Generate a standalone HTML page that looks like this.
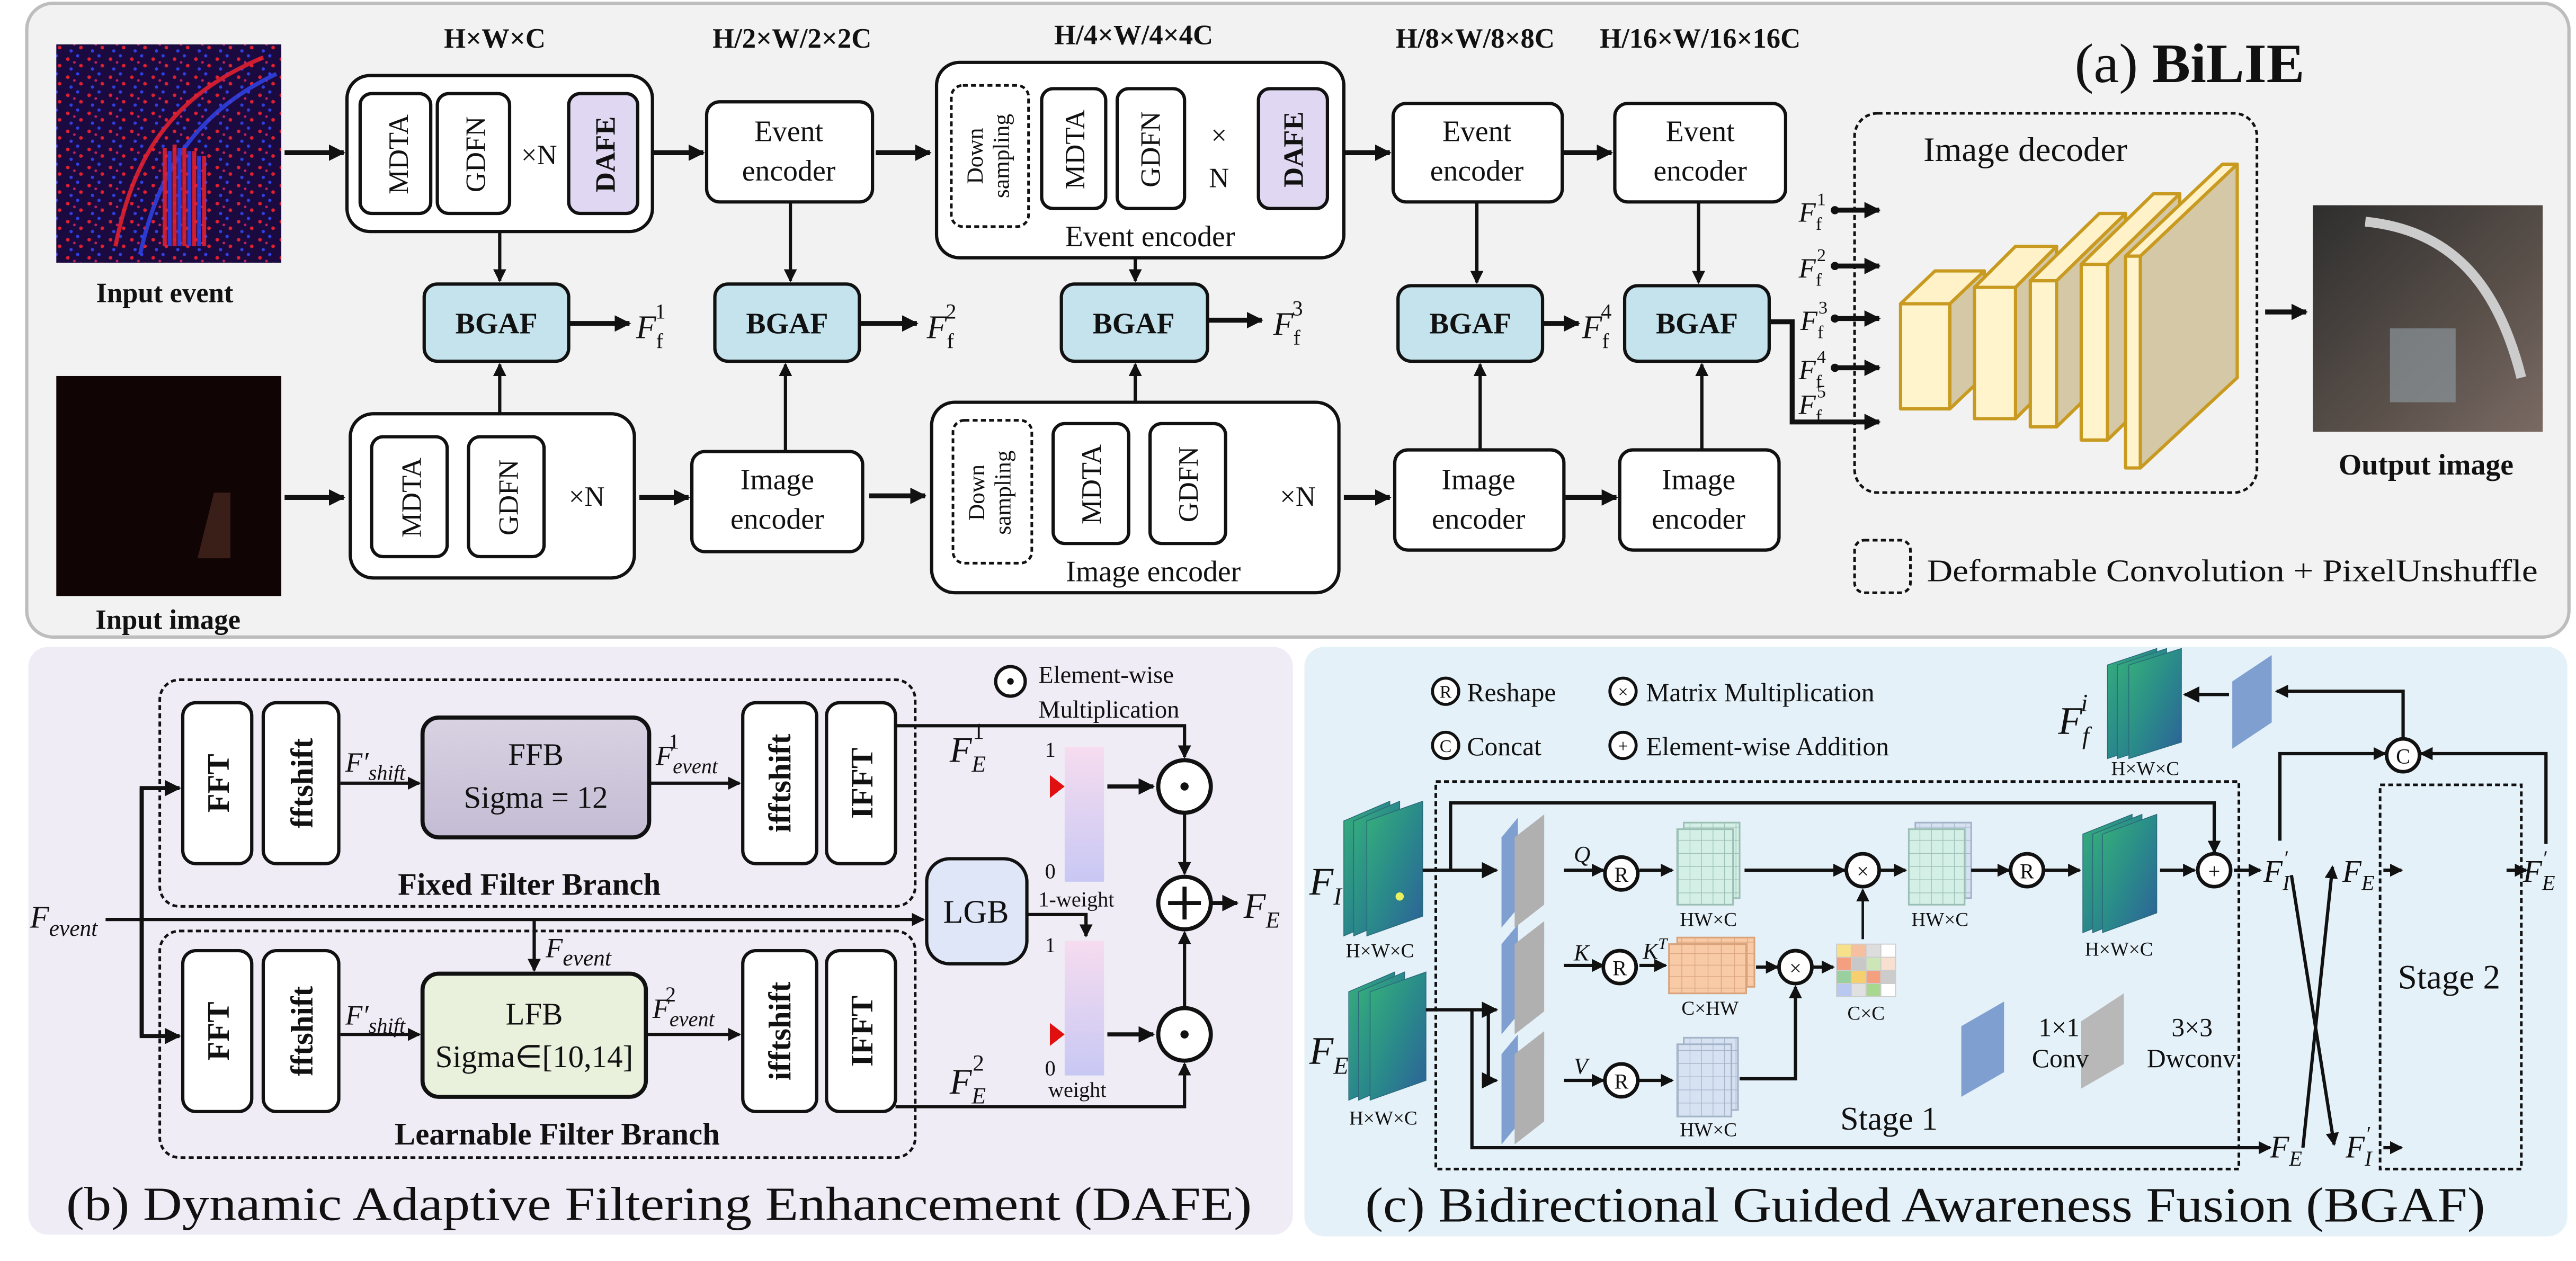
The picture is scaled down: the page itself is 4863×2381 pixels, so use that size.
<!DOCTYPE html>
<html><head><meta charset="utf-8"><style>
html,body{margin:0;padding:0;background:#fff}
svg{display:block}
text{font-family:"Liberation Serif",serif;fill:#111}
.b{font-weight:bold}
.i{font-style:italic}
.bx{fill:#fff;stroke:#111;stroke-width:2}
.ln{fill:none;stroke:#111;stroke-width:2}
.lt{fill:none;stroke:#111;stroke-width:3}
.ds{fill:none;stroke:#111;stroke-width:1.6;stroke-dasharray:3 2}
</style></head><body>
<svg width="4863" height="2381" viewBox="0 0 1568 768" xmlns="http://www.w3.org/2000/svg">
<defs>
<marker id="a" markerUnits="userSpaceOnUse" markerWidth="10" markerHeight="10" refX="9" refY="5" orient="auto"><path d="M0,0 L10,5 L0,10 z" fill="#111"/></marker>
<marker id="s" markerUnits="userSpaceOnUse" markerWidth="8" markerHeight="8" refX="7" refY="4" orient="auto"><path d="M0,0 L8,4 L0,8 z" fill="#111"/></marker>
<pattern id="noise" width="13" height="11" patternUnits="userSpaceOnUse"><rect width="13" height="11" fill="#1a0a40"/><circle cx="2" cy="3" r="1.1" fill="#e02030"/><circle cx="8" cy="1" r="1" fill="#3040e0"/><circle cx="10" cy="7" r="1.1" fill="#e02030"/><circle cx="4" cy="9" r="1" fill="#3040e0"/><circle cx="6" cy="5" r=".8" fill="#c02060"/></pattern>
<linearGradient id="out" x1="0" y1="0" x2="1" y2="1"><stop offset="0" stop-color="#2e2e2e"/><stop offset=".6" stop-color="#5a504a"/><stop offset="1" stop-color="#7a6a64"/></linearGradient>
<linearGradient id="fm" x1="0" y1="0" x2="1" y2="1"><stop offset="0" stop-color="#36b07a"/><stop offset=".5" stop-color="#2a8a8a"/><stop offset="1" stop-color="#2d5f9a"/></linearGradient>
<linearGradient id="bar" x1="0" y1="0" x2="0" y2="1"><stop offset="0" stop-color="#f6dcef"/><stop offset="1" stop-color="#c8c8f4"/></linearGradient>
<linearGradient id="ffb" x1="0" y1="0" x2="0" y2="1"><stop offset="0" stop-color="#d8d2e2"/><stop offset="1" stop-color="#c4bcd4"/></linearGradient>
<pattern id="gg" width="7" height="8" patternUnits="userSpaceOnUse"><rect width="7" height="8" fill="#d3efe6"/><path d="M7,0V8M0,8H7" stroke="#9bbfb4" stroke-width=".8"/></pattern>
<pattern id="gb" width="7" height="8" patternUnits="userSpaceOnUse"><rect width="7" height="8" fill="#d6e2f2"/><path d="M7,0V8M0,8H7" stroke="#a3b3c8" stroke-width=".8"/></pattern>
<pattern id="go" width="8" height="7" patternUnits="userSpaceOnUse"><rect width="8" height="7" fill="#f8caa6"/><path d="M8,0V7M0,7H8" stroke="#d8a27a" stroke-width=".8"/></pattern>
</defs>

<rect x="16" y="2" width="1548" height="386" rx="16" fill="#f2f2f2" stroke="#bdbdbd" stroke-width="2"/>
<rect x="17" y="394" width="770" height="358" rx="12" fill="#efecf6"/>
<rect x="794" y="394" width="769" height="359" rx="12" fill="#e5f1f8"/>

<!-- ===== (a) ===== -->
<text x="301" y="29" class="b" font-size="17" text-anchor="middle">H×W×C</text>
<text x="482" y="29" class="b" font-size="17" text-anchor="middle">H/2×W/2×2C</text>
<text x="690" y="27" class="b" font-size="17" text-anchor="middle">H/4×W/4×4C</text>
<text x="898" y="29" class="b" font-size="17" text-anchor="middle">H/8×W/8×8C</text>
<text x="1035" y="29" class="b" font-size="17" text-anchor="middle">H/16×W/16×16C</text>
<text x="1333" y="50" font-size="34" text-anchor="middle" textLength="140" lengthAdjust="spacingAndGlyphs">(a) <tspan class="b">BiLIE</tspan></text>

<rect x="34" y="27" width="137" height="133" fill="url(#noise)"/>
<g stroke-width="2.5" fill="none" opacity=".9">
<path d="M70,150 C80,100 100,60 160,35" stroke="#e02030"/><path d="M85,155 C95,110 115,70 168,45" stroke="#3040e0"/>
<path d="M100,150 V90 M106,150 V88 M112,150 V90 M118,150 V92 M124,150 V95" stroke="#e02030"/>
<path d="M103,150 V92 M109,150 V90 M115,150 V92 M121,150 V95" stroke="#3040e0"/>
</g>
<text x="100" y="184" class="b" font-size="17" text-anchor="middle">Input event</text>
<rect x="34" y="229" width="137" height="134" fill="#100404"/>
<path d="M120,340 l10,-40 l10,0 l0,40z" fill="#3a1e18"/>
<text x="102" y="383" class="b" font-size="17" text-anchor="middle">Input image</text>

<line x1="173" y1="93" x2="209" y2="93" class="lt" marker-end="url(#a)"/>
<rect x="211" y="46" width="186" height="95" rx="14" class="bx"/>
<rect x="219" y="57" width="43" height="73" rx="7" class="bx"/>
<rect x="266" y="57" width="44" height="73" rx="7" class="bx"/>
<rect x="346" y="57" width="42" height="73" rx="7" fill="#e0d8f2" stroke="#111" stroke-width="2"/>
<text transform="translate(248,94) rotate(-90)" font-size="17" text-anchor="middle">MDTA</text>
<text transform="translate(295,94) rotate(-90)" font-size="17" text-anchor="middle">GDFN</text>
<text transform="translate(374,94) rotate(-90)" class="b" font-size="17" text-anchor="middle">DAFE</text>
<text x="328" y="100" font-size="17" text-anchor="middle">×N</text>
<line x1="397" y1="93" x2="428" y2="93" class="lt" marker-end="url(#a)"/>

<rect x="430" y="62" width="101" height="61" rx="8" class="bx"/>
<text x="480" y="86" font-size="18" text-anchor="middle">Event</text><text x="480" y="110" font-size="18" text-anchor="middle">encoder</text>
<line x1="533" y1="93" x2="566" y2="93" class="lt" marker-end="url(#a)"/>

<rect x="570" y="38" width="248" height="119" rx="14" class="bx"/>
<rect x="579" y="52" width="47" height="86" rx="7" class="ds"/>
<text transform="translate(598,95) rotate(-90)" font-size="14" text-anchor="middle">Down</text>
<text transform="translate(614,95) rotate(-90)" font-size="14" text-anchor="middle">sampling</text>
<rect x="634" y="54" width="39" height="73" rx="7" class="bx"/>
<rect x="680" y="54" width="41" height="73" rx="7" class="bx"/>
<rect x="766" y="54" width="42" height="73" rx="7" fill="#e0d8f2" stroke="#111" stroke-width="2"/>
<text transform="translate(660,91) rotate(-90)" font-size="17" text-anchor="middle">MDTA</text>
<text transform="translate(706,91) rotate(-90)" font-size="17" text-anchor="middle">GDFN</text>
<text transform="translate(793,91) rotate(-90)" class="b" font-size="17" text-anchor="middle">DAFE</text>
<text x="742" y="88" font-size="17" text-anchor="middle">×</text><text x="742" y="114" font-size="17" text-anchor="middle">N</text>
<text x="700" y="150" font-size="18" text-anchor="middle">Event encoder</text>
<line x1="818" y1="93" x2="846" y2="93" class="lt" marker-end="url(#a)"/>

<rect x="848" y="63" width="103" height="60" rx="8" class="bx"/>
<text x="899" y="86" font-size="18" text-anchor="middle">Event</text><text x="899" y="110" font-size="18" text-anchor="middle">encoder</text>
<line x1="951" y1="93" x2="981" y2="93" class="lt" marker-end="url(#a)"/>
<rect x="983" y="63" width="104" height="60" rx="8" class="bx"/>
<text x="1035" y="86" font-size="18" text-anchor="middle">Event</text><text x="1035" y="110" font-size="18" text-anchor="middle">encoder</text>

<g fill="#c5e3ed" stroke="#111" stroke-width="2">
<rect x="258" y="173" width="88" height="47" rx="8"/><rect x="435" y="173" width="88" height="47" rx="8"/>
<rect x="646" y="173" width="89" height="47" rx="8"/><rect x="851" y="174" width="88" height="46" rx="8"/>
<rect x="989" y="174" width="88" height="46" rx="8"/></g>
<g class="b" font-size="18" text-anchor="middle">
<text x="302" y="203">BGAF</text><text x="479" y="203">BGAF</text><text x="690" y="203">BGAF</text><text x="895" y="203">BGAF</text><text x="1033" y="203">BGAF</text></g>
<g class="ln">
<line x1="304" y1="141" x2="304" y2="171" marker-end="url(#s)"/><line x1="481" y1="123" x2="481" y2="171" marker-end="url(#s)"/>
<line x1="691" y1="157" x2="691" y2="171" marker-end="url(#s)"/><line x1="899" y1="123" x2="899" y2="172" marker-end="url(#s)"/>
<line x1="1034" y1="123" x2="1034" y2="172" marker-end="url(#s)"/>
<line x1="304" y1="252" x2="304" y2="222" marker-end="url(#s)"/><line x1="478" y1="275" x2="478" y2="222" marker-end="url(#s)"/>
<line x1="691" y1="245" x2="691" y2="222" marker-end="url(#s)"/><line x1="901" y1="274" x2="901" y2="222" marker-end="url(#s)"/>
<line x1="1036" y1="274" x2="1036" y2="222" marker-end="url(#s)"/>
</g>
<g class="lt">
<line x1="346" y1="197" x2="383" y2="197" marker-end="url(#a)"/><line x1="523" y1="197" x2="558" y2="197" marker-end="url(#a)"/>
<line x1="735" y1="195" x2="768" y2="195" marker-end="url(#a)"/><line x1="939" y1="197" x2="961" y2="197" marker-end="url(#a)"/>
</g>
<g font-size="20" class="i">
<text x="387" y="206">F<tspan font-size="13" font-style="normal" dy="6">f</tspan><tspan font-size="13" font-style="normal" dx="-5" dy="-18">1</tspan></text>
<text x="564" y="206">F<tspan font-size="13" font-style="normal" dy="6">f</tspan><tspan font-size="13" font-style="normal" dx="-5" dy="-18">2</tspan></text>
<text x="775" y="204">F<tspan font-size="13" font-style="normal" dy="6">f</tspan><tspan font-size="13" font-style="normal" dx="-5" dy="-18">3</tspan></text>
<text x="963" y="206">F<tspan font-size="13" font-style="normal" dy="6">f</tspan><tspan font-size="13" font-style="normal" dx="-5" dy="-18">4</tspan></text>
</g>

<line x1="173" y1="303" x2="209" y2="303" class="lt" marker-end="url(#a)"/>
<rect x="213" y="252" width="173" height="100" rx="14" class="bx"/>
<rect x="226" y="266" width="46" height="73" rx="7" class="bx"/>
<rect x="285" y="266" width="46" height="73" rx="7" class="bx"/>
<text transform="translate(256,303) rotate(-90)" font-size="17" text-anchor="middle">MDTA</text>
<text transform="translate(315,303) rotate(-90)" font-size="17" text-anchor="middle">GDFN</text>
<text x="357" y="308" font-size="17" text-anchor="middle">×N</text>
<line x1="389" y1="303" x2="419" y2="303" class="lt" marker-end="url(#a)"/>
<rect x="421" y="275" width="104" height="61" rx="8" class="bx"/>
<text x="473" y="298" font-size="18" text-anchor="middle">Image</text><text x="473" y="322" font-size="18" text-anchor="middle">encoder</text>
<line x1="529" y1="302" x2="563" y2="302" class="lt" marker-end="url(#a)"/>
<rect x="567" y="245" width="248" height="116" rx="14" class="bx"/>
<rect x="580" y="256" width="48" height="87" rx="7" class="ds"/>
<text transform="translate(599,300) rotate(-90)" font-size="14" text-anchor="middle">Down</text>
<text transform="translate(615,300) rotate(-90)" font-size="14" text-anchor="middle">sampling</text>
<rect x="641" y="258" width="46" height="73" rx="7" class="bx"/>
<rect x="700" y="258" width="46" height="73" rx="7" class="bx"/>
<text transform="translate(670,295) rotate(-90)" font-size="17" text-anchor="middle">MDTA</text>
<text transform="translate(729,295) rotate(-90)" font-size="17" text-anchor="middle">GDFN</text>
<text x="790" y="308" font-size="17" text-anchor="middle">×N</text>
<text x="702" y="354" font-size="18" text-anchor="middle">Image encoder</text>
<line x1="818" y1="303" x2="846" y2="303" class="lt" marker-end="url(#a)"/>
<rect x="849" y="274" width="103" height="61" rx="8" class="bx"/>
<text x="900" y="298" font-size="18" text-anchor="middle">Image</text><text x="900" y="322" font-size="18" text-anchor="middle">encoder</text>
<line x1="953" y1="303" x2="984" y2="303" class="lt" marker-end="url(#a)"/>
<rect x="986" y="274" width="97" height="61" rx="8" class="bx"/>
<text x="1034" y="298" font-size="18" text-anchor="middle">Image</text><text x="1034" y="322" font-size="18" text-anchor="middle">encoder</text>

<path d="M1077,196 H1091 V257 H1144" class="lt" marker-end="url(#a)"/>
<g class="lt">
<line x1="1116" y1="128" x2="1144" y2="128" marker-end="url(#a)"/><line x1="1116" y1="162" x2="1144" y2="162" marker-end="url(#a)"/>
<line x1="1116" y1="194" x2="1144" y2="194" marker-end="url(#a)"/><line x1="1116" y1="224" x2="1144" y2="224" marker-end="url(#a)"/>
</g>
<g fill="#111"><circle cx="1117" cy="128" r="2.5"/><circle cx="1117" cy="162" r="2.5"/><circle cx="1117" cy="194" r="2.5"/><circle cx="1117" cy="224" r="2.5"/></g>
<g font-size="17" class="i">
<text x="1095" y="135">F<tspan font-size="11" font-style="normal" dy="5">f</tspan><tspan font-size="11" font-style="normal" dx="-3" dy="-15">1</tspan></text>
<text x="1095" y="169">F<tspan font-size="11" font-style="normal" dy="5">f</tspan><tspan font-size="11" font-style="normal" dx="-3" dy="-15">2</tspan></text>
<text x="1096" y="201">F<tspan font-size="11" font-style="normal" dy="5">f</tspan><tspan font-size="11" font-style="normal" dx="-3" dy="-15">3</tspan></text>
<text x="1095" y="231">F<tspan font-size="11" font-style="normal" dy="5">f</tspan><tspan font-size="11" font-style="normal" dx="-3" dy="-15">4</tspan></text>
<text x="1095" y="252">F<tspan font-size="11" font-style="normal" dy="5">f</tspan><tspan font-size="11" font-style="normal" dx="-3" dy="-15">5</tspan></text>
</g>
<rect x="1129" y="69" width="245" height="231" rx="14" class="ds"/>
<text x="1233" y="98" font-size="21" text-anchor="middle">Image decoder</text>
<g stroke="#c89a20" stroke-width="2" stroke-linejoin="round">
<path d="M1187,185 l21,-20 v64 l-21,20z" fill="#d5c8a6"/><path d="M1157,185 l21,-20 h30 l-21,20z" fill="#fff2c8"/><rect x="1157" y="185" width="30" height="64" fill="#fff4cc"/>
<path d="M1227,175 l25,-25 v80 l-25,25z" fill="#d5c8a6"/><path d="M1202,175 l25,-25 h25 l-25,25z" fill="#fff2c8"/><rect x="1202" y="175" width="25" height="80" fill="#fff4cc"/>
<path d="M1252,171 l42,-41 v89 l-42,41z" fill="#d5c8a6"/><path d="M1236,171 l42,-41 h16 l-42,41z" fill="#fff2c8"/><rect x="1236" y="171" width="16" height="89" fill="#fff4cc"/>
<path d="M1283,161 l44,-43 v107 l-44,43z" fill="#d5c8a6"/><path d="M1267,161 l44,-43 h16 l-44,43z" fill="#fff2c8"/><rect x="1267" y="161" width="16" height="107" fill="#fff4cc"/>
<path d="M1303,156 l59,-56 v130 l-59,55z" fill="#d5c8a6"/><path d="M1294,156 l59,-56 h9 l-59,56z" fill="#fff2c8"/><rect x="1294" y="156" width="9" height="129" fill="#fff4cc"/>
</g>
<line x1="1379" y1="190" x2="1404" y2="190" class="lt" marker-end="url(#a)"/>
<rect x="1408" y="125" width="140" height="138" fill="url(#out)"/>
<path d="M1440,135 C1490,140 1520,170 1535,230" stroke="#ccc" stroke-width="6" fill="none"/>
<rect x="1455" y="200" width="40" height="45" fill="#8a949a" opacity=".7"/>
<text x="1477" y="289" class="b" font-size="18" text-anchor="middle">Output image</text>
<rect x="1129" y="329" width="34" height="32" rx="6" class="ds"/>
<text x="1173" y="354" font-size="19" textLength="372" lengthAdjust="spacingAndGlyphs">Deformable  Convolution + PixelUnshuffle</text>

<!-- ===== (b) ===== -->
<rect x="97" y="414" width="460" height="138" rx="12" class="ds"/>
<rect x="97" y="567" width="460" height="138" rx="12" class="ds"/>
<g class="bx">
<rect x="111" y="428" width="42" height="98" rx="8"/><rect x="160" y="428" width="46" height="98" rx="8"/>
<rect x="452" y="428" width="45" height="98" rx="8"/><rect x="503" y="428" width="42" height="98" rx="8"/>
<rect x="111" y="579" width="42" height="98" rx="8"/><rect x="160" y="579" width="46" height="98" rx="8"/>
<rect x="452" y="579" width="45" height="98" rx="8"/><rect x="503" y="579" width="42" height="98" rx="8"/>
</g>
<g font-size="19" class="b" text-anchor="middle">
<text transform="translate(139,477) rotate(-90)">FFT</text><text transform="translate(190,477) rotate(-90)">fftshift</text>
<text transform="translate(481,477) rotate(-90)">ifftshift</text><text transform="translate(531,477) rotate(-90)">IFFT</text>
<text transform="translate(139,628) rotate(-90)">FFT</text><text transform="translate(190,628) rotate(-90)">fftshift</text>
<text transform="translate(481,628) rotate(-90)">ifftshift</text><text transform="translate(531,628) rotate(-90)">IFFT</text>
</g>
<rect x="257" y="437" width="138" height="73" rx="10" fill="url(#ffb)" stroke="#111" stroke-width="2.5"/>
<text x="326" y="466" font-size="19" text-anchor="middle">FFB</text><text x="326" y="492" font-size="19" text-anchor="middle">Sigma = 12</text>
<rect x="257" y="593" width="136" height="75" rx="10" fill="#e9f1dd" stroke="#111" stroke-width="2.5"/>
<text x="325" y="624" font-size="19" text-anchor="middle">LFB</text><text x="325" y="650" font-size="19" text-anchor="middle">Sigma∈[10,14]</text>
<text x="322" y="545" class="b" font-size="19" text-anchor="middle">Fixed Filter Branch</text>
<text x="339" y="697" class="b" font-size="19" text-anchor="middle">Learnable Filter Branch</text>
<g class="ln">
<line x1="207" y1="477" x2="255" y2="477" marker-end="url(#s)"/><line x1="395" y1="477" x2="450" y2="477" marker-end="url(#s)"/>
<line x1="207" y1="630" x2="255" y2="630" marker-end="url(#s)"/><line x1="393" y1="630" x2="450" y2="630" marker-end="url(#s)"/>
<path d="M64,560 H562" marker-end="url(#s)"/>
<path d="M86,631 V480 H109" marker-end="url(#a)" stroke-width="2.5"/><path d="M86,480 V631 H109" marker-end="url(#a)" stroke-width="2.5"/>
<line x1="325" y1="560" x2="325" y2="591" marker-end="url(#s)"/>
<path d="M545,442 H721 V461" marker-end="url(#s)"/>
<path d="M545,674 H721 V648" marker-end="url(#s)"/>
<line x1="721" y1="495" x2="721" y2="532" marker-end="url(#s)"/>
<line x1="721" y1="613" x2="721" y2="568" marker-end="url(#s)"/>
<path d="M625,557 H661 V570" marker-end="url(#s)"/>
<line x1="674" y1="479" x2="702" y2="479" marker-end="url(#a)" stroke-width="2.5"/>
<line x1="674" y1="630" x2="702" y2="630" marker-end="url(#a)" stroke-width="2.5"/>
<line x1="737" y1="550" x2="753" y2="550" marker-end="url(#a)" stroke-width="2.5"/>
</g>
<g font-size="17" class="i">
<text x="210" y="470">F′<tspan font-size="13" dy="5">shift</tspan></text>
<text x="399" y="466">F<tspan font-size="13" dy="5">event</tspan><tspan font-size="13" font-style="normal" dx="-30" dy="-15">1</tspan></text>
<text x="210" y="624">F′<tspan font-size="13" dy="5">shift</tspan></text>
<text x="397" y="620">F<tspan font-size="13" dy="5">event</tspan><tspan font-size="13" font-style="normal" dx="-30" dy="-15">2</tspan></text>
<text x="332" y="583">F<tspan font-size="14" dy="5">event</tspan></text>
<text x="18" y="565" font-size="19">F<tspan font-size="14" dy="5">event</tspan></text>
<text x="578" y="464" font-size="22">F<tspan font-size="14" dy="6">E</tspan><tspan font-size="14" font-style="normal" dx="-8" dy="-20">1</tspan></text>
<text x="578" y="666" font-size="22">F<tspan font-size="14" dy="6">E</tspan><tspan font-size="14" font-style="normal" dx="-8" dy="-20">2</tspan></text>
<text x="757" y="559" font-size="22">F<tspan font-size="14" dy="6">E</tspan></text>
</g>
<rect x="564" y="523" width="61" height="64" rx="14" fill="#dfe6f8" stroke="#111" stroke-width="2"/>
<text x="594" y="562" font-size="20" text-anchor="middle">LGB</text>
<rect x="648" y="455" width="24" height="82" fill="url(#bar)"/>
<rect x="648" y="573" width="24" height="82" fill="url(#bar)"/>
<path d="M639,472 l9,7 l-9,7z" fill="#e01010"/><path d="M639,623 l9,7 l-9,7z" fill="#e01010"/>
<g font-size="13"><text x="636" y="461">1</text><text x="636" y="535">0</text><text x="636" y="580">1</text><text x="636" y="655">0</text>
<text x="632" y="552">1-weight</text><text x="638" y="668">weight</text></g>
<g fill="#fff" stroke="#111" stroke-width="2.5">
<circle cx="721" cy="479" r="16"/><circle cx="721" cy="630" r="16"/><circle cx="721" cy="550" r="16"/></g>
<circle cx="721" cy="479" r="2.5" fill="#111"/><circle cx="721" cy="630" r="2.5" fill="#111"/>
<path d="M711,550 H731 M721,540 V560" stroke="#111" stroke-width="2.5"/>
<circle cx="615" cy="415" r="9" fill="#fff" stroke="#111" stroke-width="2"/><circle cx="615" cy="415" r="2" fill="#111"/>
<text x="632" y="416" font-size="15">Element-wise</text><text x="632" y="437" font-size="15">Multiplication</text>
<text x="401" y="743" font-size="29" text-anchor="middle" textLength="722" lengthAdjust="spacingAndGlyphs">(b) Dynamic Adaptive Filtering Enhancement (DAFE)</text>

<!-- ===== (c) ===== -->
<g fill="#fff" stroke="#111" stroke-width="1.8">
<circle cx="880" cy="421" r="8"/><circle cx="988" cy="421" r="8"/><circle cx="880" cy="454" r="8"/><circle cx="988" cy="454" r="8"/></g>
<g font-size="11" text-anchor="middle"><text x="880" y="425">R</text><text x="988" y="425">×</text><text x="880" y="458">C</text><text x="988" y="458">+</text></g>
<g font-size="16"><text x="893" y="427">Reshape</text><text x="1002" y="427">Matrix Multiplication</text>
<text x="893" y="460">Concat</text><text x="1002" y="460">Element-wise Addition</text></g>

<rect x="874" y="476" width="489" height="236" class="ds"/>
<rect x="1449" y="478" width="86" height="234" class="ds"/>
<text x="1150" y="688" font-size="20" text-anchor="middle">Stage 1</text>
<text x="1491" y="602" font-size="21" text-anchor="middle">Stage 2</text>

<g fill="url(#fm)" stroke="#2a6a7a" stroke-width=".5">
<path d="M818,500 l28,-12 v70 l-28,12z"/><path d="M824,500 l28,-12 v70 l-28,12z"/><path d="M832,500 l34,-12 v70 l-34,12z"/>
<path d="M821,604 l28,-12 v66 l-28,12z"/><path d="M827,604 l28,-12 v66 l-28,12z"/><path d="M834,604 l34,-12 v66 l-34,12z"/>
<path d="M1268,508 l30,-12 v60 l-30,12z"/><path d="M1274,508 l30,-12 v60 l-30,12z"/><path d="M1280,508 l33,-12 v60 l-33,12z"/>
<path d="M1283,405 l30,-10 v57 l-30,10z"/><path d="M1289,405 l30,-10 v57 l-30,10z"/><path d="M1296,405 l32,-10 v57 l-32,10z"/>
</g>
<circle cx="852" cy="546" r="2.5" fill="#e8f060"/>
<g font-size="12" text-anchor="middle"><text x="840" y="583">H×W×C</text><text x="842" y="685">H×W×C</text>
<text x="1290" y="582">H×W×C</text><text x="1306" y="472">H×W×C</text>
<text x="1040" y="564">HW×C</text><text x="1181" y="564">HW×C</text><text x="1041" y="618">C×HW</text><text x="1136" y="621">C×C</text><text x="1040" y="692">HW×C</text></g>
<g font-size="24" class="i"><text x="797" y="545">F<tspan font-size="15" dy="6">I</tspan></text><text x="797" y="648">F<tspan font-size="15" dy="6">E</tspan></text>
<text x="1253" y="447">F<tspan font-size="15" dy="6">f</tspan><tspan font-size="15" dx="-5" dy="-20">i</tspan></text></g>

<g>
<path d="M914,510 l10,-12 v55 l-10,12z" fill="#7f9fd0"/><path d="M922,510 l18,-14 v55 l-18,14z" fill="#b0b0b0"/>
<path d="M914,575 l10,-12 v55 l-10,12z" fill="#7f9fd0"/><path d="M922,575 l18,-14 v55 l-18,14z" fill="#b0b0b0"/>
<path d="M914,642 l10,-12 v55 l-10,12z" fill="#7f9fd0"/><path d="M922,642 l18,-14 v55 l-18,14z" fill="#b0b0b0"/>
<path d="M1194,625 l26,-15 v43 l-26,15z" fill="#7f9fd0"/><path d="M1267,622 l26,-17 v43 l-26,15z" fill="#b8b8b8"/>
<path d="M1359,415 l24,-16 v41 l-24,16z" fill="#7f9fd0"/>
</g>
<g font-size="16"><text x="1241" y="631">1×1</text><text x="1237" y="650">Conv</text><text x="1322" y="631">3×3</text><text x="1307" y="650">Dwconv</text></g>

<rect x="1025" y="501" width="34" height="46" fill="url(#gg)" stroke="#9bbfb4"/><rect x="1021" y="505" width="34" height="46" fill="url(#gg)" stroke="#9bbfb4"/>
<rect x="1166" y="501" width="34" height="46" fill="url(#gb)" stroke="#a3b3c8"/><rect x="1162" y="505" width="34" height="46" fill="url(#gg)" stroke="#9bbfb4"/>
<rect x="1021" y="571" width="47" height="30" fill="url(#go)" stroke="#d8a27a"/><rect x="1016" y="575" width="47" height="30" fill="url(#go)" stroke="#d8a27a"/>
<rect x="1025" y="632" width="33" height="44" fill="url(#gb)" stroke="#a3b3c8"/><rect x="1021" y="636" width="33" height="44" fill="url(#gb)" stroke="#a3b3c8"/>
<g stroke="#ccc" stroke-width=".6">
<rect x="1118" y="575" width="9" height="8" fill="#f6e08a"/><rect x="1127" y="575" width="9" height="8" fill="#f4c0a0"/><rect x="1136" y="575" width="9" height="8" fill="#ddd"/><rect x="1145" y="575" width="9" height="8" fill="#fff"/>
<rect x="1118" y="583" width="9" height="8" fill="#f4a080"/><rect x="1127" y="583" width="9" height="8" fill="#c8c8c8"/><rect x="1136" y="583" width="9" height="8" fill="#cde6b8"/><rect x="1145" y="583" width="9" height="8" fill="#f8e0d0"/>
<rect x="1118" y="591" width="9" height="8" fill="#9ad0a0"/><rect x="1127" y="591" width="9" height="8" fill="#f6d070"/><rect x="1136" y="591" width="9" height="8" fill="#f4a080"/><rect x="1145" y="591" width="9" height="8" fill="#ccc"/>
<rect x="1118" y="599" width="9" height="8" fill="#b8c8f0"/><rect x="1127" y="599" width="9" height="8" fill="#e0e0e0"/><rect x="1136" y="599" width="9" height="8" fill="#a8d890"/><rect x="1145" y="599" width="9" height="8" fill="#fff"/>
</g>

<g class="ln" stroke-width="2.5">
<path d="M866,530 H911" marker-end="url(#a)"/><path d="M883,530 V489 H1348 V519" marker-end="url(#s)"/>
<path d="M952,530 H976" marker-end="url(#s)"/><path d="M998,530 H1018" marker-end="url(#s)"/>
<path d="M1062,530 H1123" marker-end="url(#s)"/><path d="M1145,530 H1160" marker-end="url(#s)"/>
<path d="M1200,530 H1223" marker-end="url(#s)"/><path d="M1245,530 H1266" marker-end="url(#s)"/>
<path d="M1315,530 H1336" marker-end="url(#s)"/><path d="M1360,530 H1376" marker-end="url(#s)"/>
<path d="M868,615 H911" marker-end="url(#a)"/>
<path d="M906,615 V658 H911" marker-end="url(#a)"/>
<path d="M896,615 V699 H1382" marker-end="url(#s)"/>
<path d="M952,588 H976" marker-end="url(#s)"/><path d="M998,588 H1014" marker-end="url(#s)"/>
<path d="M1069,589 H1082" marker-end="url(#s)"/><path d="M1104,589 H1116" marker-end="url(#s)"/>
<path d="M952,658 H976" marker-end="url(#s)"/><path d="M998,658 H1018" marker-end="url(#s)"/>
<path d="M1059,657 H1093 V601" marker-end="url(#s)"/>
<path d="M1134,572 V542" stroke-width="1.5" marker-end="url(#s)"/>
<path d="M1395,533 L1421,697" marker-end="url(#s)"/><path d="M1402,699 L1420,528" marker-end="url(#s)"/>
<path d="M1451,530 H1462" marker-end="url(#s)"/><path d="M1451,699 H1462" marker-end="url(#s)"/>
<path d="M1526,530 H1538" marker-end="url(#s)"/>
<path d="M1388,512 V459 H1452" marker-end="url(#s)"/><path d="M1550,514 V459 H1474" marker-end="url(#s)"/>
<path d="M1463,450 V421 H1386" marker-end="url(#s)"/><path d="M1357,423 H1330" marker-end="url(#a)"/>
</g>
<g fill="#fff" stroke="#111" stroke-width="2.2">
<circle cx="987" cy="532" r="10"/><circle cx="986" cy="589" r="10"/><circle cx="987" cy="658" r="10"/><circle cx="1234" cy="530" r="10"/>
<circle cx="1134" cy="530" r="10"/><circle cx="1093" cy="589" r="10"/><circle cx="1348" cy="530" r="10"/><circle cx="1463" cy="460" r="10"/></g>
<g font-size="13" text-anchor="middle"><text x="987" y="537">R</text><text x="986" y="594">R</text><text x="987" y="663">R</text><text x="1234" y="535">R</text>
<text x="1134" y="535">×</text><text x="1093" y="594">×</text><text x="1348" y="535">+</text><text x="1463" y="465">C</text></g>
<g font-size="14" class="i"><text x="958" y="525">Q</text><text x="958" y="585">K</text><text x="1000" y="584">K<tspan font-size="10" dy="-6">T</tspan></text><text x="958" y="654">V</text></g>
<g font-size="19" class="i">
<text x="1378" y="537">F<tspan font-size="13" dy="5">I</tspan><tspan font-size="13" dx="-4" dy="-15">′</tspan></text>
<text x="1426" y="537">F<tspan font-size="13" dy="5">E</tspan></text>
<text x="1536" y="537">F<tspan font-size="13" dy="5">E</tspan><tspan font-size="13" dx="-8" dy="-15">′</tspan></text>
<text x="1382" y="705">F<tspan font-size="13" dy="5">E</tspan></text>
<text x="1428" y="705">F<tspan font-size="13" dy="5">I</tspan><tspan font-size="13" dx="-4" dy="-15">′</tspan></text>
</g>
<text x="1172" y="744" font-size="30" text-anchor="middle" textLength="682" lengthAdjust="spacingAndGlyphs">(c) Bidirectional Guided Awareness Fusion (BGAF)</text>
</svg>
</body></html>
